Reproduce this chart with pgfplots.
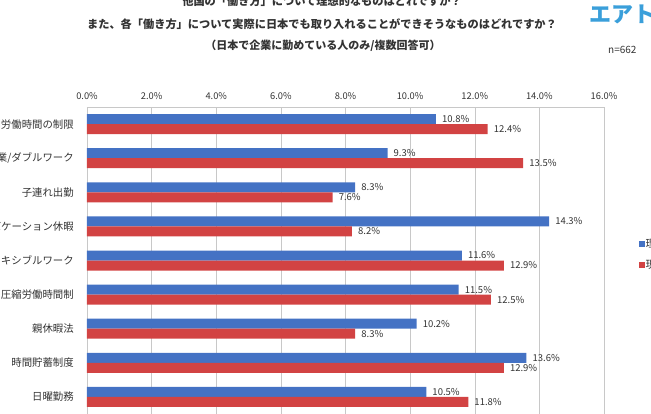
\documentclass[border=0pt]{standalone}
\usepackage{pgfplots}
\pgfplotsset{compat=1.18}
\usepackage{fontspec}
\setmainfont{Noto Sans CJK JP}
\definecolor{barblue}{HTML}{4472C4}
\definecolor{barred}{HTML}{D24343}
\definecolor{logoblue}{HTML}{3A9FDA}
\definecolor{gridgray}{HTML}{C8C8C8}
\definecolor{txt}{HTML}{333333}
\begin{document}
\begin{tikzpicture}
% titles
\node[font=\fontsize{11.2}{13}\selectfont\bfseries, text=txt] at (322pt,-1pt) {他国の「働き方」について理想的なものはどれですか？};
\node[font=\fontsize{11.2}{13}\selectfont\bfseries, text=txt] at (322pt,-24pt) {また、各「働き方」について実際に日本でも取り入れることができそうなものはどれですか？};
\node[font=\fontsize{11}{13}\selectfont\bfseries, text=txt] at (323pt,-46pt) {（日本で企業に勤めている人のみ/複数回答可）};
\node[font=\fontsize{22}{24}\selectfont\bfseries, text=logoblue, anchor=west, inner sep=0pt] at (589pt,-14pt) {エアトリ};
\node[font=\fontsize{10}{12}\selectfont, text=txt, anchor=west, inner sep=0pt] at (608pt,-50pt) {n=662};
\begin{axis}[
  at={(87pt,-107pt)}, anchor=north west,
  scale only axis, width=517pt, height=307pt,
  xbar, bar width=10pt,
  xmin=0, xmax=16, ymin=-0.5, ymax=8.5,
  enlargelimits=false, clip=false,
  axis x line*=top, axis y line*=left,
  axis line style={draw=gridgray, -},
  xmajorgrids, grid style={gridgray},
  major tick length=0pt,
  xtick={0,2,...,16},
  xticklabels={0.0\%,2.0\%,4.0\%,6.0\%,8.0\%,10.0\%,12.0\%,14.0\%,16.0\%},
  xticklabel style={font=\fontsize{9.3}{11}\selectfont, text=txt, anchor=south, inner sep=0pt, yshift=7pt},
  ytick={0,...,8},
  yticklabels={日曜勤務,時間貯蓄制度,親休暇法,圧縮労働時間制,フレキシブルワーク,バケーション休暇,子連れ出勤,副業/ダブルワーク,年間労働時間の制限},
  yticklabel style={font=\fontsize{10.4}{12}\selectfont, text=txt, anchor=east, inner sep=0pt, xshift=-13pt},
  /pgf/number format/assume math mode=true,
  nodes near coords={\pgfmathprintnumber[fixed,fixed zerofill,precision=1]{\pgfplotspointmeta}\%},
  every node near coord/.append style={font=\fontsize{9.5}{11}\selectfont, text=txt, anchor=west, inner sep=0pt, xshift=6pt},
  legend style={at={(1.061,0.52)}, anchor=west, draw=none, fill=none,
    font=\fontsize{10.4}{12}\selectfont, row sep=9pt,
    nodes={inner sep=1pt, text=txt}},
  legend cell align=left,
  legend image code/.code={\fill[#1] (0pt,-3pt) rectangle (6pt,3pt);},
]
\addplot[fill=barblue, draw=none, bar shift=5pt] coordinates {
(10.8,8) (9.3,7) (8.3,6) (14.3,5) (11.6,4) (11.5,3) (10.2,2) (13.6,1) (10.5,0)};
\addplot[fill=barred, draw=none, bar shift=-5pt] coordinates {
(12.4,8) (13.5,7) (7.6,6) (8.2,5) (12.9,4) (12.5,3) (8.3,2) (12.9,1) (11.8,0)};
\legend{理想的,現実的}
\end{axis}
\pgfresetboundingbox
\path[use as bounding box] (0pt,0pt) rectangle (651pt,-413pt);
\end{tikzpicture}
\end{document}
